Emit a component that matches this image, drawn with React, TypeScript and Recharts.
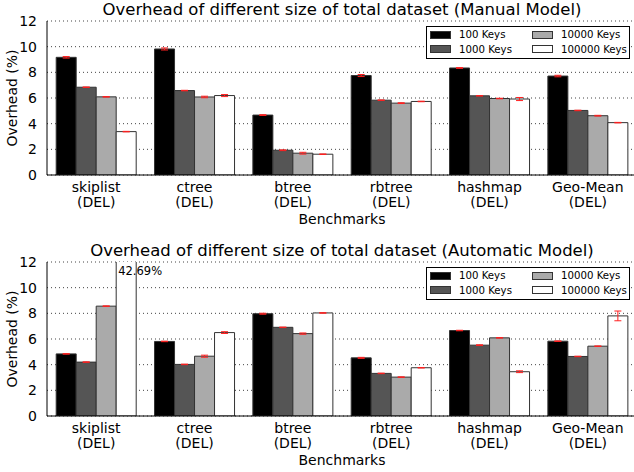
import { BarChart, Bar, XAxis, YAxis, CartesianGrid, ErrorBar, Legend, LabelList } from 'recharts'

const categories = ['skiplist', 'ctree', 'btree', 'rbtree', 'hashmap', 'Geo-Mean']
const ops = ['DEL', 'DEL', 'DEL', 'DEL', 'DEL', 'DEL']
const seriesNames = ['100 Keys', '1000 Keys', '10000 Keys', '100000 Keys']
const seriesColors = ['#000000', '#555555', '#aaaaaa', '#ffffff']
const yTicks = [0, 2, 4, 6, 8, 10, 12]

// Manual model
const manual100 = [9.17, 9.82, 4.67, 7.75, 8.34, 7.71]
const manual1000 = [6.84, 6.58, 1.93, 5.83, 6.17, 5.03]
const manual10000 = [6.09, 6.08, 1.7, 5.6, 5.96, 4.62]
const manual100000 = [3.38, 6.19, 1.62, 5.73, 5.92, 4.08]
const manualErr100 = [0.06, 0.08, 0.03, 0.08, 0.03, 0.06]
const manualErr1000 = [0.02, 0.02, 0.03, 0.02, 0.02, 0.02]
const manualErr10000 = [0.02, 0.06, 0.07, 0.03, 0.02, 0.03]
const manualErr100000 = [0.02, 0.08, 0.02, 0.02, 0.12, 0.02]

// Automatic model
const auto100 = [4.84, 5.81, 7.97, 4.53, 6.66, 5.83]
const auto1000 = [4.2, 4.02, 6.91, 3.32, 5.52, 4.64]
const auto10000 = [8.56, 4.66, 6.42, 3.03, 6.09, 5.44]
const auto100000 = [42.69, 6.5, 8.03, 3.76, 3.45, 7.8]
const autoErr100 = [0.02, 0.02, 0.04, 0.04, 0.02, 0.02]
const autoErr1000 = [0.02, 0.02, 0.02, 0.02, 0.03, 0.02]
const autoErr10000 = [0.02, 0.08, 0.05, 0.02, 0.02, 0.02]
const autoErr100000 = [0, 0.07, 0.02, 0.02, 0.07, 0.38]

const Y_MAX = 12
const PLOT_TOP = 21
const FONT = 14

function buildRows(values: number[][], errs: number[][]) {
  return categories.map((name, i) => {
    const row: Record<string, string | number> = { name }
    values.forEach((v, s) => {
      row['k' + s] = v[i]
      row['e' + s] = errs[s][i]
    })
    return row
  })
}

const manualRows = buildRows(
  [manual100, manual1000, manual10000, manual100000],
  [manualErr100, manualErr1000, manualErr10000, manualErr100000]
)
const autoRows = buildRows(
  [auto100, auto1000, auto10000, auto100000],
  [autoErr100, autoErr1000, autoErr10000, autoErr100000]
)

function CategoryTick({ x, y, payload, index }: any) {
  return (
    <text x={x} y={y} textAnchor="middle" fontSize={FONT} fill="#000">
      <tspan x={x} dy={16.5}>{payload.value}</tspan>
      <tspan x={x} dy={15.5}>({ops[index]})</tspan>
    </text>
  )
}

function KeysLegend({ payload }: any) {
  return (
    <div
      style={{
        position: 'relative',
        boxSizing: 'border-box',
        width: 204,
        height: 33,
        border: '1px solid #000',
        background: '#fff',
        fontSize: 10.2,
      }}
    >
      {(payload || []).map((entry: any, i: number) => (
        <div
          key={entry.value}
          style={{
            position: 'absolute',
            left: 3 + Math.floor(i / 2) * 102,
            top: 0.5 + (i % 2) * 14.6,
            height: 14.6,
            display: 'flex',
            alignItems: 'center',
            whiteSpace: 'nowrap',
          }}
        >
          <span
            style={{
              display: 'inline-block',
              boxSizing: 'border-box',
              width: 21,
              height: 8,
              background: entry.color,
              border: '1px solid #333',
              marginRight: 8,
            }}
          />
          {entry.value}
        </div>
      ))}
    </div>
  )
}

function OverflowLabel(props: any) {
  const { x, value } = props
  if (value <= Y_MAX) return null
  return (
    <text x={Number(x) + 2} y={PLOT_TOP + 12.5} fontSize={11.5} fill="#000">
      {value.toFixed(2)}%
    </text>
  )
}

function Panel({ title, rows, top, showOverflow }: { title: string; rows: any[]; top: number; showOverflow?: boolean }) {
  return (
    <div style={{ position: 'absolute', left: 0, top, width: 640, height: 231 }}>
      <div
        style={{
          position: 'absolute',
          left: 47,
          top: 0,
          width: 590,
          textAlign: 'center',
          fontSize: 16.5,
          lineHeight: 'normal',
          whiteSpace: 'nowrap',
          zIndex: 2,
        }}
      >
        {title}
      </div>
      <BarChart
        width={640}
        height={231}
        data={rows}
        margin={{ top: PLOT_TOP, right: 3, bottom: 0, left: 0 }}
        barCategoryGap={9.2}
        barGap={0}
      >
        <CartesianGrid vertical={false} stroke="#444" strokeDasharray="1 3" />
        <XAxis
          dataKey="name"
          height={56}
          interval={0}
          tickLine={false}
          tickSize={0}
          tickMargin={0}
          tick={<CategoryTick />}
          axisLine={{ stroke: '#000' }}
          label={{ value: 'Benchmarks', position: 'insideBottom', offset: 7, fontSize: FONT, fill: '#000' }}
        />
        <XAxis xAxisId="top" orientation="top" dataKey="name" height={0} tick={false} tickLine={false} axisLine={{ stroke: '#000' }} />
        <YAxis
          width={47}
          domain={[0, Y_MAX]}
          ticks={yTicks}
          allowDataOverflow
          tickLine={false}
          tickMargin={4}
          tick={{ fontSize: FONT, fill: '#000' }}
          axisLine={{ stroke: '#000' }}
          label={{ value: 'Overhead (%)', angle: -90, position: 'insideLeft', offset: 12, fontSize: FONT, fill: '#000', style: { textAnchor: 'middle' } }}
        />
        <Legend
          verticalAlign="middle"
          align="center"
          layout="horizontal"
          wrapperStyle={{ left: 426, top: 26, width: 204, height: 33 }}
          content={<KeysLegend />}
        />
        {seriesNames.map((s, i) => (
          <Bar
            key={s}
            dataKey={'k' + i}
            name={s}
            fill={seriesColors[i]}
            stroke="#333"
            strokeWidth={1}
            isAnimationActive={false}
          >
            <ErrorBar dataKey={'e' + i} stroke="#ff2020" width={3.5} strokeWidth={1} />
            {showOverflow && i === 3 ? <LabelList dataKey={'k' + i} content={<OverflowLabel />} /> : null}
          </Bar>
        ))}
      </BarChart>
    </div>
  )
}

export default function App() {
  return (
    <div
      style={{
        position: 'absolute',
        left: 0,
        top: 0,
        width: 634,
        height: 472,
        overflow: 'hidden',
        background: '#fff',
        fontFamily: '"DejaVu Sans", sans-serif',
      }}
    >
      <Panel title="Overhead of different size of total dataset (Manual Model)" rows={manualRows} top={0} />
      <Panel title="Overhead of different size of total dataset (Automatic Model)" rows={autoRows} top={241} showOverflow />
    </div>
  )
}
